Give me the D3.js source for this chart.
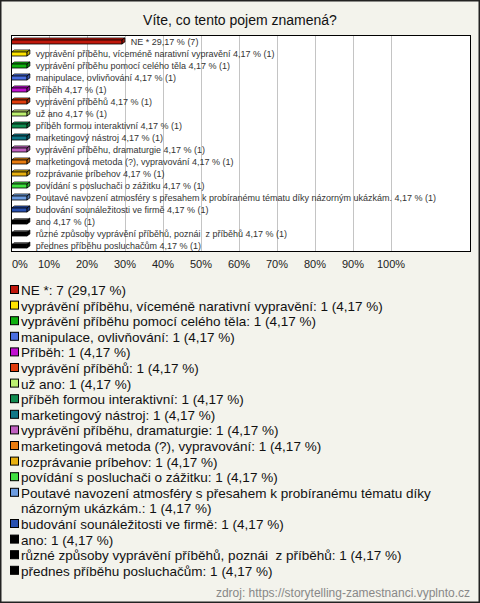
<!DOCTYPE html>
<html><head><meta charset="utf-8">
<script src="https://cdn.jsdelivr.net/npm/d3@7"></script>
<style>body{margin:0;background:#fff}svg{display:block}text{font-family:"Liberation Sans",Arial,sans-serif}</style>
</head><body><svg id="c" width="480" height="603"></svg>
<script>
const title = "Víte, co tento pojem znamená?";
const categories = [
  "NE *",
  "vyprávění příběhu, víceméně narativní vypravění",
  "vyprávění příběhu pomocí celého těla",
  "manipulace, ovlivňování",
  "Příběh",
  "vyprávění příběhů",
  "už ano",
  "příběh formou interaktivní",
  "marketingový nástroj",
  "vyprávění příběhu, dramaturgie",
  "marketingová metoda (?), vypravování",
  "rozprávanie príbehov",
  "povídání s posluchači o zážitku",
  "Poutavé navození atmosféry s přesahem k probíranému tématu díky názorným ukázkám.",
  "budování sounáležitosti ve firmě",
  "ano",
  "různé způsoby vyprávění příběhů, poznái  z příběhů",
  "přednes příběhu posluchačům"
];
const counts = [7,1,1,1,1,1,1,1,1,1,1,1,1,1,1,1,1,1];
const percents = [29.17,4.17,4.17,4.17,4.17,4.17,4.17,4.17,4.17,4.17,4.17,4.17,4.17,4.17,4.17,4.17,4.17,4.17];
const colors = ["#c0180c","#ffe400","#10b010","#4a6ee0","#c010d0","#e03c0c","#bcf070","#108c50","#107888","#c060c0","#e87c10","#e8b010","#40e040","#6c9ce0","#2850b0","#000000","#000000","#000000"];
const xTicks = [0,10,20,30,40,50,60,70,80,90,100];
const source = "zdroj: https://storytelling-zamestnanci.vyplnto.cz";

const fmt = v => v.toFixed(2).replace(".", ",");
const svg = d3.select("#c");
svg.append("rect").attr("x",0.75).attr("y",0.75).attr("width",478.5).attr("height",601.5)
  .attr("fill","#f3f3ec").attr("stroke","#222").attr("stroke-width",1.5);
svg.append("text").attr("x",240).attr("y",25).attr("text-anchor","middle")
  .attr("font-size",14).attr("fill","#111").text(title);

const plot = {x0:11, x1:470, y0:35, y1:251};
const x = d3.scaleLinear().domain([0,100]).range([11,391]);
const y = d3.scaleBand().domain(d3.range(categories.length)).range([plot.y0, plot.y1]);

svg.append("rect").attr("x",plot.x0+0.5).attr("y",plot.y0+0.5)
  .attr("width",plot.x1-plot.x0).attr("height",plot.y1-plot.y0).attr("fill","#fff");
svg.append("g").selectAll("line").data(xTicks.filter(t=>t>0)).join("line")
  .attr("x1",d=>Math.round(x(d))+0.5).attr("x2",d=>Math.round(x(d))+0.5)
  .attr("y1",plot.y0).attr("y2",plot.y1).attr("stroke","#c4c4c4");

const g = svg.append("g").selectAll("g").data(categories).join("g");
const dx = 3, dy = 2;
g.each(function(c,i){
  const s = d3.select(this);
  const cy = y(i) + y.bandwidth()/2;
  const xa = x(0)+0.5, xb = x(percents[i]);
  const top = cy-1, bot = cy+3;
  const col = d3.color(colors[i]);
  const light = colors[i]==="#000000" ? "#000" : col.brighter(0.5);
  const dark = colors[i]==="#000000" ? "#000" : col.darker(0.7);
  s.append("path").attr("d",`M${xa},${top}L${xa+dx},${top-dy}L${xb+dx},${top-dy}L${xb},${top}Z`)
    .attr("fill",light).attr("stroke",colors[i]==="#000000"?"#fff":"#000").attr("stroke-width",0.8);
  s.append("path").attr("d",`M${xb},${top}L${xb+dx},${top-dy}L${xb+dx},${bot-dy}L${xb},${bot}Z`)
    .attr("fill",dark).attr("stroke","#000").attr("stroke-width",0.8);
  s.append("rect").attr("x",xa).attr("y",top).attr("width",xb-xa).attr("height",bot-top)
    .attr("fill",colors[i]).attr("stroke","#000").attr("stroke-width",0.8);
  s.append("text").attr("x",xb+9).attr("y",cy+3.5).attr("font-size",9).attr("fill","#333")
    .style("white-space","pre").text(`${c} ${fmt(percents[i])} % (${counts[i]})`);
});

svg.append("rect").attr("x",plot.x0+0.5).attr("y",plot.y0+0.5)
  .attr("width",plot.x1-plot.x0).attr("height",plot.y1-plot.y0).attr("fill","none").attr("stroke","#000");

svg.append("g").selectAll("text").data(xTicks).join("text")
  .attr("x",(d,i)=> i===0 ? x(d)+1 : x(d))
  .attr("text-anchor",(d,i)=> i===0 ? "start" : "middle")
  .attr("y",268).attr("font-size",11).attr("fill","#222").text(d=>d+"%");

// legend
let ly = 295;
const lh = 15.6, maxW = 440;
categories.forEach((c,i)=>{
  const label = `${c}: ${counts[i]} (${fmt(percents[i])} %)`;
  svg.append("rect").attr("x",10.5).attr("y",ly-9.5).attr("width",8).attr("height",8)
    .attr("fill",colors[i]).attr("stroke","#000").attr("stroke-width",1);
  const t = svg.append("text").attr("x",21).attr("y",ly).attr("font-size",13.5).attr("fill","#111")
    .style("white-space","pre");
  const words = label.split(" ");
  let line = [], tsp = t.append("tspan").attr("x",21).attr("y",ly);
  words.forEach(w=>{
    line.push(w);
    tsp.text(line.join(" "));
    if (tsp.node().getComputedTextLength() > maxW && line.length>1){
      line.pop(); tsp.text(line.join(" "));
      line=[w]; ly += lh;
      tsp = t.append("tspan").attr("x",21).attr("y",ly).text(w);
    }
  });
  ly += lh;
});
svg.append("text").attr("x",470).attr("y",597).attr("text-anchor","end")
  .attr("font-size",12).attr("fill","#888").text(source);
</script></body></html>
